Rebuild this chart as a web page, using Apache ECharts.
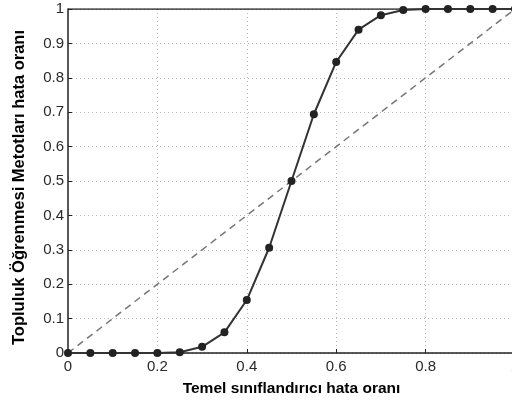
<!DOCTYPE html>
<html>
<head>
<meta charset="utf-8">
<script src="https://cdn.jsdelivr.net/npm/echarts@6/dist/echarts.min.js"></script>
<style>
  html, body { margin: 0; padding: 0; background: #fff; }
  #chart { width: 512px; height: 401px; }
</style>
</head>
<body>
<div id="chart"></div>
<script>
    // temel sınıflandırıcı hata oranı (x) ve topluluk hata oranı (y)
    var baseError = [0, 0.05, 0.1, 0.15, 0.2, 0.25, 0.3, 0.35, 0.4, 0.45, 0.5,
                     0.55, 0.6, 0.65, 0.7, 0.75, 0.8, 0.85, 0.9, 0.95, 1];
    var ensembleError = [0, 0, 0, 0, 0, 0.002, 0.018, 0.06, 0.154, 0.306, 0.5,
                         0.694, 0.846, 0.94, 0.982, 0.997, 1, 1, 1, 1, 1];
    var diagX = [0, 1];
    var diagY = [0, 1];

    var chart = echarts.init(document.getElementById('chart'));
    var labelFont = {
        color: '#2a2a2a',
        fontFamily: 'Liberation Sans, Arial, sans-serif',
        fontSize: 15
    };
    var nameFont = {
        fontSize: 15.5, fontWeight: 'bold', color: '#000',
        fontFamily: 'Liberation Sans, Arial, sans-serif'
    };
    var gridLine = {
        show: true,
        lineStyle: { color: '#bbb', type: [1, 3], width: 1 }
    };
    var fmt = function (v) { return String(+v.toFixed(1)); };

    var option = {
        animation: false,
        grid: { left: 68, right: -3, top: 9, bottom: 48, outerBoundsMode: 'none' },
        xAxis: {
            type: 'value',
            min: 0, max: 1, interval: 0.2,
            name: 'Temel sınıflandırıcı hata oranı',
            nameLocation: 'middle',
            nameGap: 28,
            nameTextStyle: nameFont,
            axisLine: { show: true, lineStyle: { color: '#222', width: 1.5 } },
            axisTick: { show: true, inside: true, length: 4, lineStyle: { color: '#222' } },
            axisLabel: Object.assign({ margin: 6, formatter: fmt }, labelFont),
            splitLine: gridLine
        },
        yAxis: {
            type: 'value',
            min: 0, max: 1, interval: 0.1,
            name: 'Topluluk Öğrenmesi Metotları hata oranı',
            nameLocation: 'middle',
            nameGap: 40,
            nameTextStyle: Object.assign({}, nameFont, { fontSize: 16.5, padding: [0, 13, 0, 0] }),
            axisLine: { show: true, lineStyle: { color: '#222', width: 1.5 } },
            axisTick: { show: true, inside: true, length: 4, lineStyle: { color: '#222' } },
            axisLabel: Object.assign({ margin: 4, formatter: fmt }, labelFont),
            splitLine: gridLine
        },
        series: [
            {
                type: 'line',
                data: diagX.map(function (x, i) { return [x, diagY[i]]; }),
                showSymbol: false,
                lineStyle: { color: '#777', width: 1.5, type: [7, 5] },
                z: 2
            },
            {
                type: 'line',
                data: baseError.map(function (x, i) { return [x, ensembleError[i]]; }),
                symbol: 'circle',
                symbolSize: 8,
                itemStyle: { color: '#222' },
                lineStyle: { color: '#333', width: 2 },
                clip: false,
                z: 3
            },
            {
                // üst çerçeve çizgisi
                type: 'line',
                data: [[0, 1], [1, 1]],
                showSymbol: false,
                lineStyle: { color: '#222', width: 1.5 },
                z: 1
            }
        ]
    };
    chart.setOption(option);
</script>
</body>
</html>
